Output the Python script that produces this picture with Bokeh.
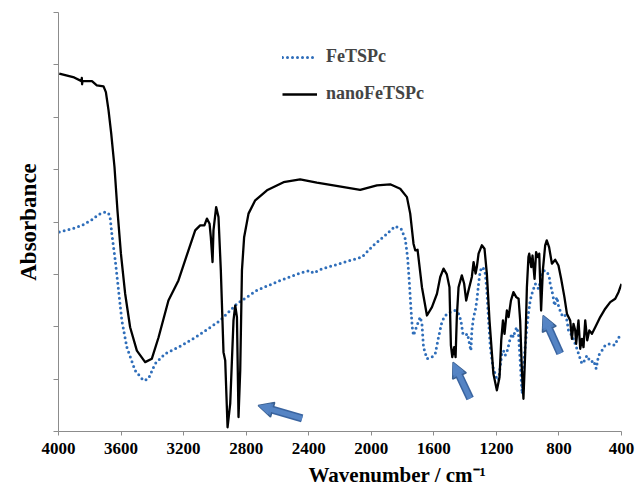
from bokeh.plotting import figure
from bokeh.models import (Range1d, FixedTicker, Legend, LegendItem, Title, Arrow,
                          NormalHead)
from bokeh.embed import file_html
from bokeh.resources import INLINE

# ---------------- data ----------------
nano_wn = [3995, 3900, 3853, 3851, 3849, 3847, 3786, 3755, 3712, 3697, 3680, 3663, 3642,
           3623, 3601, 3574, 3542, 3499, 3446, 3403, 3360, 3297, 3233, 3169, 3126, 3094,
           3067, 3051, 3034, 3026, 3015, 3009, 2992, 2977, 2962, 2945, 2934, 2919, 2902,
           2881, 2870, 2859, 2849, 2838, 2827, 2813, 2785, 2742, 2667, 2561, 2455, 2348,
           2242, 2071, 1964, 1879, 1815, 1772, 1751, 1730, 1719, 1704, 1676, 1644, 1612,
           1580, 1559, 1538, 1517, 1500, 1491, 1482, 1470, 1461, 1453, 1442, 1421, 1406,
           1393, 1378, 1357, 1346, 1333, 1325, 1314, 1293, 1276, 1261, 1244, 1219, 1197,
           1180, 1169, 1158, 1148, 1133, 1122, 1107, 1091, 1073, 1058, 1048, 1037, 1027,
           1016, 1005, 995, 990, 977, 969, 956, 946, 935, 926, 914, 903, 888, 878, 863,
           845, 824, 803, 786, 765, 749, 728, 717, 707, 696, 690, 675, 664, 653, 643, 632,
           619, 606, 589, 568, 536, 504, 472, 440, 419, 400]
nano_abs = [1.367, 1.352, 1.338, 1.350, 1.326, 1.338, 1.338, 1.322, 1.318, 1.296, 1.226,
            1.138, 1.010, 0.844, 0.680, 0.527, 0.398, 0.309, 0.265, 0.278, 0.360, 0.500,
            0.577, 0.692, 0.768, 0.787, 0.787, 0.813, 0.793, 0.742, 0.647, 0.768, 0.857,
            0.819, 0.615, 0.303, 0.271, 0.016, 0.106, 0.424, 0.481, 0.437, 0.055, 0.233,
            0.615, 0.742, 0.832, 0.883, 0.921, 0.952, 0.963, 0.950, 0.940, 0.923, 0.940,
            0.944, 0.927, 0.895, 0.832, 0.717, 0.692, 0.694, 0.551, 0.443, 0.475, 0.526,
            0.590, 0.622, 0.600, 0.551, 0.330, 0.284, 0.322, 0.284, 0.437, 0.551, 0.596,
            0.564, 0.500, 0.539, 0.590, 0.647, 0.603, 0.628, 0.679, 0.711, 0.698, 0.603,
            0.424, 0.220, 0.157, 0.207, 0.348, 0.424, 0.373, 0.462, 0.437, 0.500, 0.532,
            0.513, 0.507, 0.424, 0.233, 0.125, 0.297, 0.551, 0.666, 0.679, 0.628, 0.672,
            0.583, 0.685, 0.666, 0.679, 0.462, 0.615, 0.711, 0.730, 0.704, 0.641, 0.656,
            0.634, 0.583, 0.513, 0.450, 0.424, 0.354, 0.411, 0.386, 0.335, 0.424, 0.316,
            0.354, 0.322, 0.424, 0.348, 0.386, 0.373, 0.398, 0.437, 0.469, 0.494, 0.507,
            0.532, 0.564]

fe_wn = [3995, 3914, 3850, 3786, 3744, 3701, 3680, 3669, 3659, 3637, 3616, 3595, 3563,
         3510, 3457, 3425, 3382, 3318, 3211, 3105, 2966, 2859, 2731, 2582, 2455, 2391,
         2370, 2327, 2242, 2135, 2060, 1986, 1911, 1847, 1809, 1783, 1768, 1756, 1747,
         1738, 1730, 1719, 1704, 1687, 1676, 1666, 1644, 1612, 1591, 1570, 1548, 1527,
         1495, 1463, 1442, 1427, 1414, 1399, 1385, 1372, 1363, 1357, 1346, 1335, 1325,
         1314, 1303, 1286, 1271, 1261, 1250, 1239, 1222, 1201, 1186, 1176, 1165, 1155,
         1144, 1133, 1122, 1112, 1101, 1091, 1080, 1069, 1058, 1048, 1041, 1035, 1027,
         1016, 1005, 995, 984, 973, 952, 941, 931, 920, 909, 893, 878, 863, 856, 845,
         835, 828, 813, 803, 786, 771, 760, 749, 739, 717, 700, 685, 671, 653, 636, 621,
         610, 593, 578, 562, 547, 525, 504, 472, 444, 423, 402]
fe_abs = [0.762, 0.774, 0.787, 0.809, 0.829, 0.838, 0.834, 0.813, 0.755, 0.653, 0.539,
          0.424, 0.322, 0.233, 0.195, 0.201, 0.259, 0.297, 0.329, 0.367, 0.424, 0.488,
          0.539, 0.577, 0.605, 0.615, 0.605, 0.618, 0.634, 0.653, 0.666, 0.711, 0.749,
          0.784, 0.774, 0.736, 0.666, 0.564, 0.475, 0.398, 0.367, 0.386, 0.411, 0.437,
          0.411, 0.322, 0.278, 0.284, 0.297, 0.360, 0.420, 0.443, 0.456, 0.462, 0.450,
          0.424, 0.373, 0.367, 0.373, 0.335, 0.309, 0.386, 0.437, 0.462, 0.500, 0.564,
          0.615, 0.628, 0.603, 0.539, 0.424, 0.322, 0.246, 0.207, 0.195, 0.246, 0.297,
          0.309, 0.290, 0.303, 0.329, 0.354, 0.373, 0.360, 0.386, 0.398, 0.367, 0.271,
          0.195, 0.144, 0.246, 0.322, 0.398, 0.450, 0.500, 0.526, 0.564, 0.558, 0.545,
          0.570, 0.603, 0.615, 0.609, 0.596, 0.564, 0.539, 0.507, 0.481, 0.513, 0.481,
          0.450, 0.437, 0.443, 0.424, 0.386, 0.367, 0.341, 0.316, 0.290, 0.259, 0.271,
          0.290, 0.278, 0.265, 0.271, 0.240, 0.290, 0.309, 0.329, 0.335, 0.329, 0.354,
          0.373]

x_ticks = [4000, 3600, 3200, 2800, 2400, 2000, 1600, 1200, 800, 400]
y_ticks = [0.0, 0.2, 0.4, 0.6, 0.8, 1.0, 1.2, 1.4, 1.6]

# arrow annotations (tail -> head), in data units
arrow_x_start = [2442, 1368, 792]
arrow_y_start = [0.050, 0.126, 0.298]
arrow_x_end = [2723, 1477, 901]
arrow_y_end = [0.099, 0.264, 0.443]

series_names = ["FeTSPc", "nanoFeTSPc"]
x_title = "Wavenumber / cm\u207b\u00b9"
y_title = "Absorbance"

# ---------------- figure ----------------
FONT = "Liberation Serif"
AXIS_COLOR = "#8c8c8c"
BLUE = "#2F6EBA"

p = figure(width=636, height=496, output_backend="svg", toolbar_location=None,
           x_range=Range1d(4000, 400), y_range=Range1d(0, 1.6),
           min_border_left=58, min_border_right=15, min_border_top=12,
           min_border_bottom=65)
p.outline_line_color = None
p.grid.visible = False
p.background_fill_color = "white"
p.border_fill_color = "white"

# x axis
xa = p.xaxis[0]
xa.ticker = FixedTicker(ticks=x_ticks)
xa.minor_tick_line_color = None
xa.major_tick_in = 0
xa.major_tick_out = 4
xa.axis_line_color = AXIS_COLOR
xa.major_tick_line_color = AXIS_COLOR
xa.major_label_text_font = FONT
xa.major_label_text_font_style = "bold"
xa.major_label_text_font_size = "17px"
xa.major_label_text_color = "black"
xa.major_label_standoff = 7

# y axis (ticks only, no tick labels)
ya = p.yaxis[0]
ya.ticker = FixedTicker(ticks=y_ticks)
ya.minor_tick_line_color = None
ya.major_tick_in = 0
ya.major_tick_out = 5
ya.axis_line_color = AXIS_COLOR
ya.major_tick_line_color = AXIS_COLOR
ya.major_label_overrides = {t: "" for t in y_ticks}
ya.axis_label = y_title
ya.axis_label_text_font = FONT
ya.axis_label_text_font_style = "bold"
ya.axis_label_text_font_size = "23px"
ya.axis_label_text_color = "black"
ya.axis_label_standoff = 13

# x-axis title, offset to the right as in the reference
p.add_layout(Title(text=x_title, align="left", offset=250, standoff=9,
                   text_font=FONT, text_font_style="bold", text_font_size="21px",
                   text_color="black"), "below")

# series
r_fe = p.line(fe_wn, fe_abs, line_color=BLUE, line_width=3, line_dash="0 5",
              line_cap="round")
r_nano = p.line(nano_wn, nano_abs, line_color="black", line_width=2.3,
                line_join="round")

# arrows
for xs, ys, xe, ye in zip(arrow_x_start, arrow_y_start, arrow_x_end, arrow_y_end):
    p.add_layout(Arrow(x_start=xs, y_start=ys, x_end=xe, y_end=ye,
                       line_color="#3A64A0", line_width=8,
                       end=NormalHead(size=15, fill_color="#4F7EBF",
                                      line_color="#3A5F8F", line_width=1.5)))
    p.add_layout(Arrow(x_start=xs, y_start=ys, x_end=xe, y_end=ye,
                       line_color="#5584C4", line_width=5,
                       end=NormalHead(size=12, fill_color="#5584C4",
                                      line_color=None, line_width=0)))

# legend
legend = Legend(items=[LegendItem(label=series_names[0], renderers=[r_fe]),
                       LegendItem(label=series_names[1], renderers=[r_nano])],
                location=(224, 327), orientation="vertical")
legend.label_text_font = FONT
legend.label_text_font_style = "bold"
legend.label_text_font_size = "18px"
legend.glyph_width = 35
legend.glyph_height = 20
legend.label_height = 20
legend.spacing = 16
legend.padding = 0
legend.margin = 0
legend.label_standoff = 9
legend.border_line_color = None
legend.background_fill_alpha = 0
p.add_layout(legend)

open("out.html", "w").write(file_html(p, INLINE))
